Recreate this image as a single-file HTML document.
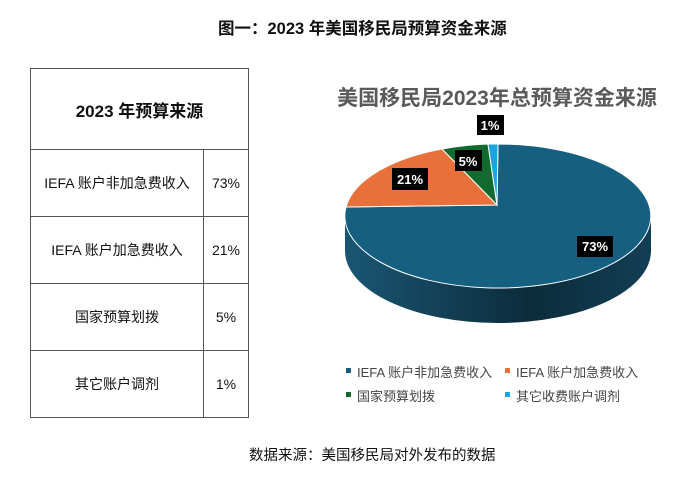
<!DOCTYPE html>
<html><head><meta charset="utf-8"><style>
body{margin:0;width:697px;height:494px;background:#fff;position:relative;font-family:"Liberation Sans","Noto Sans CJK SC",sans-serif;color:#111;overflow:hidden}
.t{position:absolute;white-space:nowrap}
table{position:absolute;left:30px;top:68px;border-collapse:collapse;width:219px}
td{border:1px solid #555;text-align:center;font-size:14px;padding:0}
</style></head><body>
<div class="t" style="left:218px;top:15px;font-size:16.5px;font-weight:bold">图一：2023 年美国移民局预算资金来源</div>
<table>
<tr><td colspan="2" style="height:80px;font-size:17px;font-weight:bold">2023 年预算来源</td></tr>
<tr><td style="height:66px;width:172px">IEFA 账户非加急费收入</td><td>73%</td></tr>
<tr><td style="height:66px">IEFA 账户加急费收入</td><td>21%</td></tr>
<tr><td style="height:66px">国家预算划拨</td><td>5%</td></tr>
<tr><td style="height:66px">其它账户调剂</td><td>1%</td></tr>
</table>
<div class="t" style="left:327px;width:340px;text-align:center;top:82px;font-size:21px;font-weight:bold;color:#5a5a5a">美国移民局2023年总预算资金来源</div>
<svg style="position:absolute;left:0;top:0" width="697" height="494">
<defs><linearGradient id="g" x1="0" x2="1"><stop offset="0" stop-color="#1a5673"/><stop offset="0.6" stop-color="#0c2c3c"/><stop offset="1" stop-color="#123e54"/></linearGradient></defs>
<path d="M345 216 A153 72 0 0 0 651 216 L651 251 A153 72 0 0 1 345 251 Z" fill="url(#g)"/>
<path d="M497 205 L498 144 A153 72 0 1 1 346 207 Z" fill="#155f80" stroke="#fff" stroke-width="1"/>
<path d="M497 205 L346 207 A153 72 0 0 1 442 149 Z" fill="#e8703a" stroke="#fff" stroke-width="1"/>
<path d="M497 205 L442 149 A153 72 0 0 1 488 144 Z" fill="#116b2f" stroke="#fff" stroke-width="1"/>
<path d="M497 205 L488 144 A153 72 0 0 1 498 144 Z" fill="#1ba5df" stroke="#fff" stroke-width="1"/>
<g font-size="13" font-weight="bold" fill="#fff" text-anchor="middle" font-family="Liberation Sans,sans-serif">
<rect x="477" y="115" width="27" height="20" fill="#000"/><text x="490" y="130">1%</text>
<rect x="455" y="150" width="27" height="21" fill="#000"/><text x="468" y="166">5%</text>
<rect x="392" y="168" width="36" height="22" fill="#000"/><text x="410" y="184">21%</text>
<rect x="577" y="236" width="36" height="21" fill="#000"/><text x="595" y="251">73%</text>
</g>
<rect x="346" y="368" width="5" height="5" fill="#155f80"/>
<rect x="505" y="368" width="5" height="5" fill="#e8703a"/>
<rect x="346" y="392" width="5" height="5" fill="#116b2f"/>
<rect x="505" y="392" width="5" height="5" fill="#1ba5df"/>
</svg>
<div class="t" style="left:357px;top:362px;font-size:13px;color:#444">IEFA 账户非加急费收入</div>
<div class="t" style="left:516px;top:362px;font-size:13px;color:#444">IEFA 账户加急费收入</div>
<div class="t" style="left:357px;top:386px;font-size:13px;color:#444">国家预算划拨</div>
<div class="t" style="left:516px;top:386px;font-size:13px;color:#444">其它收费账户调剂</div>
<div class="t" style="left:249px;top:444px;font-size:14.5px">数据来源：美国移民局对外发布的数据</div>
</body></html>
